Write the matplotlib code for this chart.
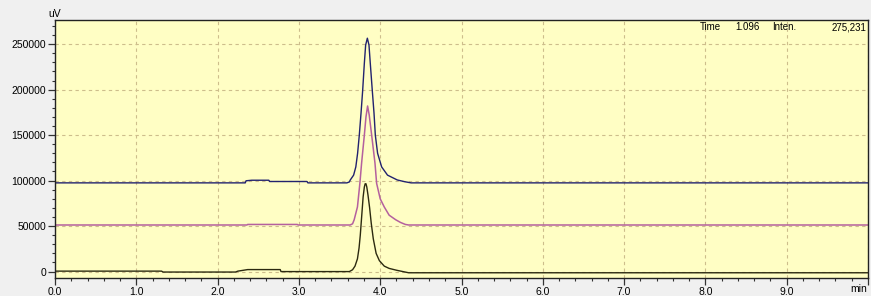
import numpy as np
import matplotlib
matplotlib.use("Agg")
import matplotlib.pyplot as plt
from matplotlib.ticker import MultipleLocator

# chromatogram traces (time in min, signal in uV)
t_top = [0.0, 2.34, 2.35, 2.42, 2.63, 2.64, 3.10, 3.11, 3.59, 3.62, 3.632, 3.673, 3.70,
         3.722, 3.743, 3.764, 3.784, 3.805, 3.821, 3.842, 3.862, 3.878, 3.903, 3.924,
         3.94, 3.968, 4.018, 4.09, 4.21, 4.30, 4.38, 10.0]
v_top = [97500, 97500, 99800, 100400, 100400, 99000, 99000, 97500, 97500, 98500, 100700,
         106000, 115000, 130000, 150000, 174000, 198600, 229000, 249000, 256500, 249000,
         229000, 198600, 174000, 150000, 130000, 115000, 106000, 100700, 98800, 97500,
         97500]

t_mid = [0.0, 2.36, 2.37, 2.98, 2.99, 3.63, 3.66, 3.68, 3.72, 3.75, 3.771, 3.805, 3.825,
         3.845, 3.865, 3.895, 3.936, 3.956, 4.00, 4.05, 4.11, 4.19, 4.25, 4.31, 4.35, 10.0]
v_mid = [51200, 51200, 51800, 51800, 51200, 51200, 52500, 57000, 71000, 97000, 119000,
         150000, 170000, 182000, 172000, 150000, 119000, 97000, 80000, 71000, 62000, 57000,
         54000, 51800, 51200, 51200]

t_bot = [0.0, 1.31, 1.33, 2.22, 2.25, 2.37, 2.77, 2.78, 3.62, 3.66, 3.69, 3.72, 3.74,
         3.755, 3.77, 3.79, 3.805, 3.815, 3.825, 3.835, 3.85, 3.87, 3.89, 3.915, 3.95,
         3.99, 4.05, 4.11, 4.20, 4.28, 4.35, 10.0]
v_bot = [500, 500, -500, -500, 500, 2200, 2200, 0, 0, 2000, 6000, 14000, 26000, 40000,
         58000, 82000, 93000, 96500, 96500, 93000, 84000, 70000, 53000, 36000, 20000,
         12000, 6000, 3500, 1500, 0, -1300, -1300]

x_ticks = [0, 1, 2, 3, 4, 5, 6, 7, 8, 9, 10]
x_labels = ["0.0", "1.0", "2.0", "3.0", "4.0", "5.0", "6.0", "7.0", "8.0", "9.0", ""]
y_ticks = [0, 50000, 100000, 150000, 200000, 250000]

plt.rcParams["font.family"] = ["Liberation Sans", "DejaVu Sans"]

W, H = 871, 296
fig = plt.figure(figsize=(W / 100, H / 100), dpi=100, facecolor="#f0f0f0")
ax = fig.add_axes([55 / W, 1 - 277.5 / H, 813 / W, 257.5 / H])
ax.set_facecolor("#fffec4")

ax.plot(t_top, v_top, color="#22226e", lw=1.0)
ax.plot(t_mid, v_mid, color="#b4609e", lw=1.1)
ax.plot(t_bot, v_bot, color="#2c2a10", lw=1.0)

ax.set_xlim(0, 10)
ax.set_ylim(-6500, 276500)
ax.set_xticks(x_ticks)
ax.set_xticklabels(x_labels)
ax.set_yticks(y_ticks)
ax.set_yticklabels([str(v) for v in y_ticks])
ax.xaxis.set_minor_locator(MultipleLocator(0.2))
ax.yaxis.set_minor_locator(MultipleLocator(10000))
ax.tick_params(which="major", length=5, width=0.9, labelsize=7.5, pad=1.5, color="#333333")
ax.tick_params(which="minor", length=2.5, width=0.8, color="#333333")
ax.grid(True, which="major", color="#cdbd8c", ls=(0, (3, 3)), lw=0.8)
for s in ax.spines.values():
    s.set_color("#222222")
    s.set_linewidth(1.0)

ax.text(0.999, -0.026, "min", transform=ax.transAxes, ha="right", va="top", fontsize=7.5)
fig.text(55 / W, 1 - 14 / H, "uV", ha="center", va="center", fontsize=7.5)

ty = 1 - 27 / H
fig.text(700 / W, ty, "Time", ha="left", va="center", fontsize=7)
fig.text(735 / W, ty, "1.096", ha="left", va="center", fontsize=7)
fig.text(772 / W, ty, "Inten.", ha="left", va="center", fontsize=7)
fig.text(866 / W, ty, "275,231", ha="right", va="center", fontsize=7)

fig.savefig("out.png", dpi=100, facecolor=fig.get_facecolor())
